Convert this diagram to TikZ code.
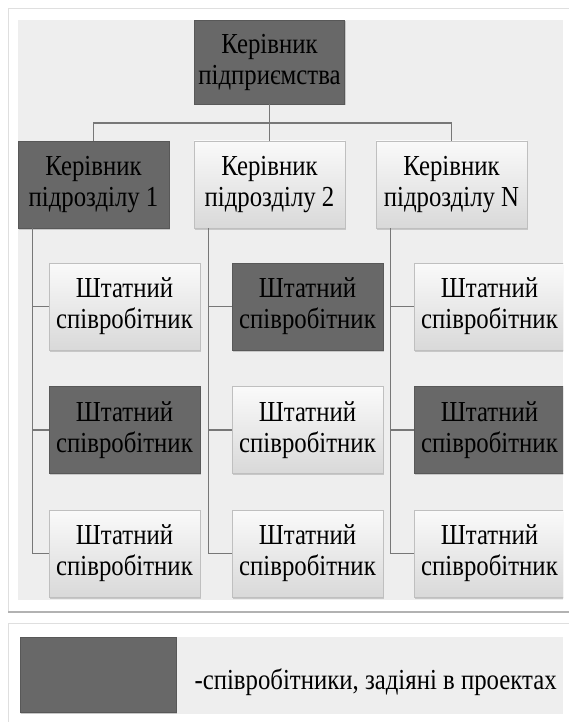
\documentclass[tikz,border=0pt]{standalone}
\usepackage{fontspec}
\setmainfont{Liberation Serif}[FakeStretch=0.855]
\usetikzlibrary{shadows}
\definecolor{panel}{HTML}{EEEEEE}
\definecolor{darkfill}{HTML}{686868}
\definecolor{linkcol}{HTML}{777777}
\begin{document}
\begin{tikzpicture}[x=1pt,y=-1pt,
        box/.style={minimum width=151pt,minimum height=87pt,inner sep=0pt,align=center,
            font=\fontsize{29}{31}\selectfont,text=black,
            drop shadow={shadow xshift=1pt,shadow yshift=-1.5pt,opacity=0.35}},
        darkbox/.style={box,fill=darkfill,draw=darkfill!85!black},
        lightbox/.style={box,draw=gray!50,top color=gray!4,bottom color=gray!30},
        link/.style={draw=linkcol,line width=1.3pt}]
        \useasboundingbox (0,0) rectangle (568,722);
        \fill[white] (0,0) rectangle (568,722);
        \draw[gray!25,fill=white] (8,8) rectangle (590,612);
        \draw[gray!60,line width=1.5pt] (8,612) -- (590,612);
        \draw[gray!25,fill=white] (8,623) rectangle (590,740);
        \fill[panel] (18,20) rectangle (563,600);
        \fill[panel] (20,637) rectangle (563,714);
        \begin{scope}
        \clip (18,20) rectangle (563,600);
        \node[darkbox,minimum width=150pt,minimum height=84pt] (boss) at (269.5,62) {Керівник\\підприємства};
        \node[darkbox] (head1) at (93.5,184.5) {Керівник\\підрозділу 1};
        \node[lightbox] (head2) at (269.5,184.5) {Керівник\\підрозділу 2};
        \node[lightbox] (head3) at (451.5,184.5) {Керівник\\підрозділу N};
        \node[lightbox] (s11) at (124.5,306.5) {Штатний\\співробітник};
        \node[darkbox] (s12) at (124.5,430) {Штатний\\співробітник};
        \node[lightbox] (s13) at (124.5,553.5) {Штатний\\співробітник};
        \node[darkbox] (s21) at (307.5,306.5) {Штатний\\співробітник};
        \node[lightbox] (s22) at (307.5,430) {Штатний\\співробітник};
        \node[lightbox] (s23) at (307.5,553.5) {Штатний\\співробітник};
        \node[lightbox] (s31) at (489.5,306.5) {Штатний\\співробітник};
        \node[darkbox] (s32) at (489.5,430) {Штатний\\співробітник};
        \node[lightbox] (s33) at (489.5,553.5) {Штатний\\співробітник};
        \coordinate (bus) at (269.5,123);
        \draw[link] (boss.south) -- (bus);
        \draw[link] (head1.north) |- (bus) -| (head3.north);
        \draw[link] (bus) -- (head2.north);
        \coordinate (t1) at ([xshift=15pt]head1.south west);
        \coordinate (t2) at ([xshift=15pt]head2.south west);
        \coordinate (t3) at ([xshift=15pt]head3.south west);
        \draw[link] (t1) |- (s13.west);
        \draw[link] (t1 |- s11.west) -- (s11.west);
        \draw[link] (t1 |- s12.west) -- (s12.west);
        \draw[link] (t2) |- (s23.west);
        \draw[link] (t2 |- s21.west) -- (s21.west);
        \draw[link] (t2 |- s22.west) -- (s22.west);
        \draw[link] (t3) |- (s33.west);
        \draw[link] (t3 |- s31.west) -- (s31.west);
        \draw[link] (t3 |- s32.west) -- (s32.west);
        \end{scope}
        \node[darkbox,minimum width=156pt,minimum height=75pt] (key) at (98,674.5) {};
        \node[anchor=base west,font=\fontsize{29}{31}\selectfont,text=black] (keytext) at (191,689) {-співробітники, задіяні в проектах};
    \end{tikzpicture}
\end{document}
